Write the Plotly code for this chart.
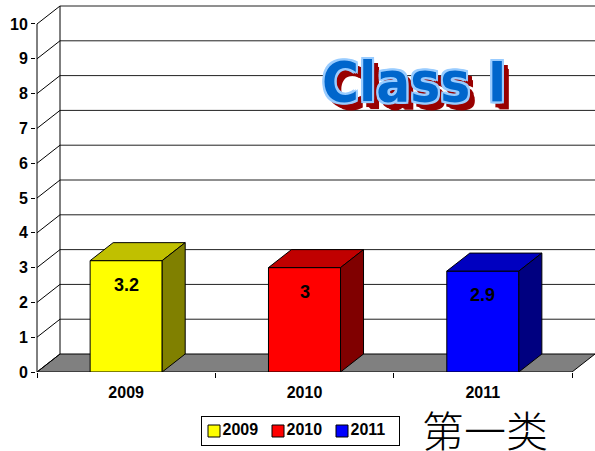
import plotly.graph_objects as go

years = ["2009", "2010", "2011"]
values = [3.2, 3.0, 2.9]
value_labels = ["3.2", "3", "2.9"]
y_ticks = list(range(0, 11))
front_colors = ["#FFFF00", "#FF0000", "#0000FF"]
top_colors = ["#C0C000", "#C00000", "#0000C0"]
side_colors = ["#808000", "#800000", "#000080"]

W, H = 595, 451
# 3D depth offsets (in data units)
DX = 0.129   # categories
DY = 0.517   # values
HW = 0.202   # half bar width in categories
YMAX = 10

fig = go.Figure()

# floor
fig.add_trace(go.Scatter(
    x=[0, 3, 3 + DX, DX, 0], y=[0, 0, DY, DY, 0],
    fill="toself", fillcolor="#808080", mode="lines",
    line=dict(color="black", width=1), hoverinfo="skip"))

# back wall gridlines
gx, gy = [], []
for v in y_ticks[1:]:
    gx += [DX, 3 + DX, None]
    gy += [v + DY, v + DY, None]
fig.add_trace(go.Scatter(x=gx, y=gy, mode="lines",
                         line=dict(color="#202020", width=1), hoverinfo="skip"))

# left wall lines
lx, ly = [], []
for v in y_ticks:
    lx += [0, DX, None]
    ly += [v, v + DY, None]
lx += [0, 0, None, DX, DX, None]
ly += [0, YMAX, None, DY, YMAX + DY, None]
fig.add_trace(go.Scatter(x=lx, y=ly, mode="lines",
                         line=dict(color="black", width=1), hoverinfo="skip"))

# bars
for i, v in enumerate(values):
    c = i + 0.5
    l, r = c - HW, c + HW
    faces = [
        ([l, r, r, l, l], [0, 0, v, v, 0], front_colors[i]),
        ([l, r, r + DX, l + DX, l], [v, v, v + DY, v + DY, v], top_colors[i]),
        ([r, r + DX, r + DX, r, r], [0, DY, v + DY, v, 0], side_colors[i]),
    ]
    for fx, fy, col in faces:
        fig.add_trace(go.Scatter(x=fx, y=fy, fill="toself", fillcolor=col,
                                 mode="lines", line=dict(color="black", width=1),
                                 hoverinfo="skip"))
    fig.add_annotation(x=c, y=v, text=value_labels[i], showarrow=False,
                       yanchor="middle", yshift=-24,
                       font=dict(family="Arial, Liberation Sans", size=18,
                                 color="black", weight="bold"))

# legend (drawn on its own small axes)
fig.add_trace(go.Scatter(
    x=list(range(len(years))), y=[0] * len(years), mode="markers+text",
    text=years, textposition="middle right",
    textfont=dict(family="Arial, Liberation Sans", size=16, color="black", weight="bold"),
    marker=dict(symbol="square", size=12, color=front_colors,
                line=dict(color="black", width=1)),
    xaxis="x2", yaxis="y2", hoverinfo="skip", cliponaxis=False))

font_b = dict(family="Arial, Liberation Sans", size=16, color="black", weight="bold")

# plot-area geometry (pixels)
PL, PR, PT, PB = 36, 595, 5, 372
LG_L, LG_R, LG_T, LG_B = 202, 399, 417, 445

fig.update_layout(
    width=W, height=H, autosize=False,
    margin=dict(l=0, r=0, t=0, b=0, autoexpand=False),
    paper_bgcolor="white", plot_bgcolor="white",
    showlegend=False,
    xaxis=dict(domain=[PL / W, PR / W], range=[-1 / 178.3, 3 + DX],
               showgrid=False, zeroline=False,
               tickmode="array", tickvals=[0.5, 1.5, 2.5], ticktext=years,
               ticks="", tickfont=font_b, ticklabelstandoff=9, automargin=False,
               minor=dict(ticks="outside", ticklen=5, tickcolor="black",
                          tickmode="linear", tick0=0, dtick=1, showgrid=False)),
    yaxis=dict(domain=[(H - PB) / H, (H - PT) / H],
               range=[0, YMAX + DY + 1 / 34.8], showgrid=False, zeroline=False,
               tickmode="array", tickvals=y_ticks, ticks="outside", ticklen=4,
               tickcolor="black", tickfont=font_b, automargin=False),
    xaxis2=dict(domain=[LG_L / W, LG_R / W], range=[-12 / 64, (LG_R - LG_L - 12) / 64],
                showgrid=False, zeroline=False, showticklabels=False, ticks="",
                showline=True, linecolor="black", linewidth=1, mirror=True,
                anchor="y2", fixedrange=True),
    yaxis2=dict(domain=[(H - LG_B) / H, (H - LG_T) / H], range=[-1, 1],
                showgrid=False, zeroline=False, showticklabels=False, ticks="",
                showline=True, linecolor="black", linewidth=1, mirror=True,
                anchor="x2", fixedrange=True),
)

# WordArt-like title
shadow = ", ".join(
    [f"{dx}px {dy}px 0 #99CCFF" for dx, dy in
     [(2, 0), (-2, 0), (0, 2), (0, -2), (2, 2), (-2, -2), (2, -2), (-2, 2)]] +
    [f"{dx}px {dy}px 0 #990000" for dx, dy in
     [(4, 5), (5, 6), (6, 7), (3, 6), (6, 4), (7, 8)]])
fig.add_annotation(xref="paper", yref="paper", x=414 / W, y=(H - 82) / H,
                   text="Class I", showarrow=False, xanchor="center", yanchor="middle",
                   font=dict(family="DejaVu Sans Condensed, sans-serif",
                             size=56, color="#0066CC", weight="bold", shadow=shadow))

# Chinese caption
fig.add_annotation(xref="paper", yref="paper", x=485 / W, y=(H - 428) / H,
                   text="第一类", showarrow=False, xanchor="center", yanchor="middle",
                   height=46, valign="middle",
                   font=dict(family="Noto Sans CJK SC", size=42, color="black", weight=300))

fig.write_html("out.html", config={"displayModeBar": False},
               post_script="document.body.style.margin='0';document.body.style.overflow='hidden';")
